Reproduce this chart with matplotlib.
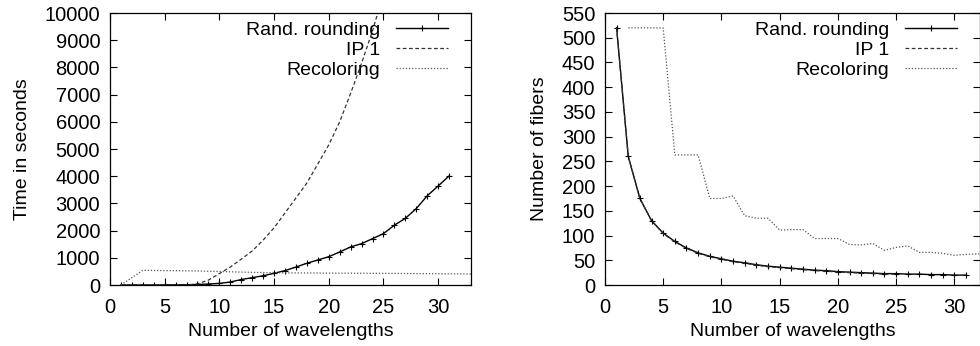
import numpy as np
import matplotlib
matplotlib.use("Agg")
import matplotlib.pyplot as plt

plt.rcParams['font.family'] = ['Liberation Sans', 'DejaVu Sans']
plt.rcParams['font.size'] = 14

# --- data ---
series_names = ["Rand. rounding", "IP 1", "Recoloring"]

# left panel: time in seconds
rr_x = list(range(1, 32))
rr_time = [0, 0, 0, 0, 3, 5, 10, 20, 35, 60, 110, 200, 270, 340, 430, 530,
           660, 800, 920, 1040, 1215, 1400, 1520, 1705, 1890, 2200, 2450,
           2810, 3280, 3640, 4010]

ip_x = list(range(1, 26))
ip_time = [0, 0, 0, 0, 0, 0, 0, 40, 180, 420, 660, 950, 1250, 1650, 2100,
           2650, 3200, 3750, 4450, 5150, 6000, 7050, 8150, 9350, 10700]

rc_x = list(range(1, 34))
rc_time = [0, 270, 540, 535, 530, 525, 520, 515, 505, 495, 485, 475, 465,
           458, 452, 448, 445, 442, 440, 438, 436, 434, 432, 430, 428, 425,
           422, 420, 418, 415, 412, 408, 405]

# right panel: number of fibers
rr_fibers = [520, 260, 175, 130, 105, 88, 75, 65, 58, 53, 48, 45, 41, 38, 36,
             34, 32, 30, 29, 27, 26, 25, 24, 23, 23, 22, 22, 21, 21, 20, 20]
ip_fibers = [520, 260, 175, 130, 104, 87, 74, 64, 57, 52, 47, 44, 40, 37, 35,
             33, 31, 29, 28, 26, 25, 24, 23, 22, 22]
rc_fib_x = list(range(2, 34))
rc_fibers = [520, 520, 520, 520, 263, 263, 263, 175, 175, 180, 140, 135, 135,
             111, 112, 112, 94, 94, 94, 82, 81, 84, 70, 76, 79, 66, 66, 64,
             60, 62, 63, 63]

x_ticks = [0, 5, 10, 15, 20, 25, 30]
time_ticks = list(range(0, 10001, 1000))
fiber_ticks = list(range(0, 551, 50))


def style_axes(ax):
    ax.tick_params(direction='in', length=5, width=0.8, top=True, right=True,
                   labelsize=14.5, pad=7)
    ax.tick_params(axis='x', pad=9)
    for s in ax.spines.values():
        s.set_linewidth(0.9)


def draw(ax, rr_y, ip_xs, ip_y, rc_xs, rc_y):
    ax.plot(rr_x, rr_y, color='black', lw=1.0, marker='+', ms=5, mew=0.8,
            label=series_names[0])
    ax.plot(ip_xs, ip_y, color='#333333', lw=0.9, ls=(0, (3, 2)),
            label=series_names[1])
    ax.plot(rc_xs, rc_y, color='#555555', lw=0.9, ls=(0, (1, 1.5)),
            label=series_names[2])
    leg = ax.legend(loc='upper right', frameon=False, markerfirst=False,
                    numpoints=1, handlelength=2.7, handletextpad=0.8,
                    labelspacing=0.12, borderaxespad=0.2, fontsize=14,
                    bbox_to_anchor=(0.97, 1.012))
    for t in leg.get_texts():
        t.set_ha('right')


fig = plt.figure(figsize=(9.8, 3.46), dpi=100)

ax1 = fig.add_axes([0.1122, 0.1763, 0.3684, 0.7861])
draw(ax1, rr_time, ip_x, ip_time, rc_x, rc_time)
ax1.set_xlim(0, 33)
ax1.set_ylim(0, 10000)
ax1.set_xticks(x_ticks)
ax1.set_yticks(time_ticks)
ax1.set_xlabel("Number of wavelengths", fontsize=14, labelpad=5)
ax1.set_ylabel("Time in seconds", fontsize=14, labelpad=10)
style_axes(ax1)

ax2 = fig.add_axes([0.6173, 0.1763, 0.3827, 0.7861])
draw(ax2, rr_fibers, list(range(1, 26)), ip_fibers, rc_fib_x, rc_fibers)
ax2.set_xlim(0, 32.2)
ax2.set_ylim(0, 550)
ax2.set_xticks(x_ticks)
ax2.set_yticks(fiber_ticks)
ax2.set_xlabel("Number of wavelengths", fontsize=14, labelpad=5)
ax2.set_ylabel("Number of fibers", fontsize=14, labelpad=10)
style_axes(ax2)

fig.savefig("out.png", dpi=100)
